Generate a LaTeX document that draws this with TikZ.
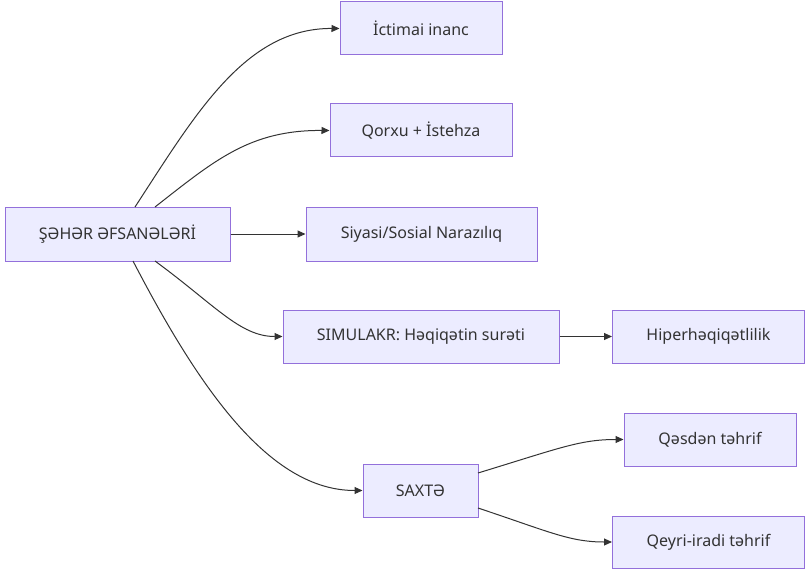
\documentclass[tikz,border=0pt]{standalone}
\usepackage{fontspec}
\setmainfont{Noto Sans}
\usetikzlibrary{arrows.meta}
\definecolor{nfill}{HTML}{ECECFF}
\definecolor{nline}{HTML}{9370DB}
\definecolor{eline}{HTML}{333333}
\begin{document}
\begin{tikzpicture}[x=1pt,y=-1pt,
  box/.style={draw=nline,fill=nfill,line width=1pt,inner sep=0pt,text=eline,font=\fontsize{16}{19}\selectfont},
  conn/.style={draw=eline,line width=1pt,-{Triangle[length=8pt,width=7pt]}}]
\useasboundingbox (0,0) rectangle (805,572);
\node[box,minimum width=225,minimum height=54] (A) at (117.5,234) {ŞƏHƏR ƏFSANƏLƏRİ};
\node[box,minimum width=162,minimum height=53] (B) at (421,28.5) {İctimai inanc};
\node[box,minimum width=182,minimum height=53] (C) at (421,130.5) {Qorxu + İstehza};
\node[box,minimum width=231,minimum height=54] (D) at (421.5,234) {Siyasi/Sosial Narazılıq};
\node[box,minimum width=276,minimum height=53] (E) at (421,336.5) {SIMULAKR: Həqiqətin surəti};
\node[box,minimum width=192,minimum height=53] (F) at (708.5,336.5) {Hiperhəqiqətlilik};
\node[box,minimum width=115,minimum height=53] (G) at (420.5,490.5) {SAXTƏ};
\node[box,minimum width=172,minimum height=53] (H) at (710,439.5) {Qəsdən təhrif};
\node[box,minimum width=192,minimum height=52] (I) at (708.5,542) {Qeyri-iradi təhrif};
\coordinate (a1) at (135,207);
\coordinate (a2) at (155,207);
\coordinate (a3) at (155,261);
\coordinate (a4) at (133,261);
\coordinate (g1) at (478,473);
\coordinate (g2) at (478,508);
\draw[conn] (a1) .. controls (195,115) and (245,28) .. (B.west);
\draw[conn] (a2) .. controls (215,160) and (250,130) .. (C.west);
\draw[conn] (A.east) -- (D.west);
\draw[conn] (a3) .. controls (215,305) and (240,336.5) .. (E.west);
\draw[conn] (a4) .. controls (200,390) and (270,490.5) .. (G.west);
\draw[conn] (E.east) -- (F.west);
\draw[conn] (g1) .. controls (560,448) and (580,439.5) .. (H.west);
\draw[conn] (g2) .. controls (550,532) and (570,542) .. (I.west);
\end{tikzpicture}
\end{document}
